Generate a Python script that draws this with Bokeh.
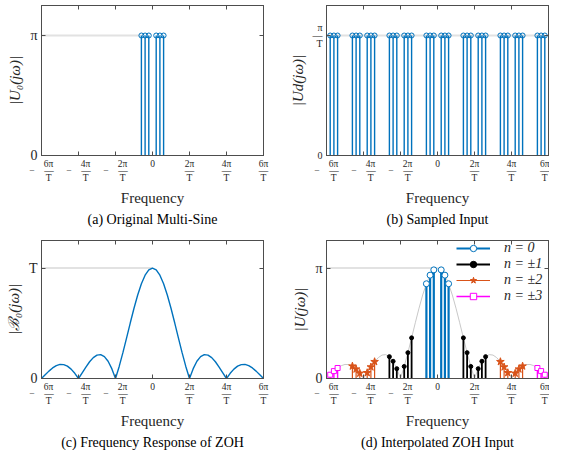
from bokeh.plotting import figure
from bokeh.models import Range1d, FixedTicker, LinearAxis, Legend, LegendItem
from bokeh.layouts import column, row
from bokeh.embed import file_html
from bokeh.resources import INLINE

# ---------------- data (x in units of pi/T) ----------------
x_ticks = [-6, -4, -2, 0, 2, 4, 6]
x_tick_num = ["6π", "4π", "2π", "0", "2π", "4π", "6π"]
x_tick_sign = ["−", "−", "−", "", "", "", ""]
x_tick_den = "T"

# (a) original multi-sine, magnitude in units of pi
a_freq = [-0.6, -0.4, -0.2, 0.2, 0.4, 0.6]
a_mag = [1.0, 1.0, 1.0, 1.0, 1.0, 1.0]

# (b) sampled input, magnitude in units of pi/T
b_freq = [-5.8, -5.6, -5.4, -4.6, -4.4, -4.2, -3.8, -3.6, -3.4,
          -2.6, -2.4, -2.2, -1.8, -1.6, -1.4, -0.6, -0.4, -0.2,
          0.2, 0.4, 0.6, 1.4, 1.6, 1.8, 2.2, 2.4, 2.6,
          3.4, 3.6, 3.8, 4.2, 4.4, 4.6, 5.4, 5.6, 5.8]
b_mag = [1.0, 1.0, 1.0, 1.0, 1.0, 1.0, 1.0, 1.0, 1.0,
         1.0, 1.0, 1.0, 1.0, 1.0, 1.0, 1.0, 1.0, 1.0,
         1.0, 1.0, 1.0, 1.0, 1.0, 1.0, 1.0, 1.0, 1.0,
         1.0, 1.0, 1.0, 1.0, 1.0, 1.0, 1.0, 1.0, 1.0]

# (c) ZOH frequency response, magnitude in units of T
zoh_freq = [-6.0, -5.8, -5.6, -5.4, -5.2, -5.0, -4.8, -4.6, -4.4, -4.2,
            -4.0, -3.8, -3.6, -3.4, -3.2, -3.0, -2.8, -2.6, -2.4, -2.2,
            -2.0, -1.8, -1.6, -1.4, -1.2, -1.0, -0.8, -0.6, -0.4, -0.2,
            0.0, 0.2, 0.4, 0.6, 0.8, 1.0, 1.2, 1.4, 1.6, 1.8,
            2.0, 2.2, 2.4, 2.6, 2.8, 3.0, 3.2, 3.4, 3.6, 3.8,
            4.0, 4.2, 4.4, 4.6, 4.8, 5.0, 5.2, 5.4, 5.6, 5.8, 6.0]
zoh_mag = [0.0, 0.0339, 0.0668, 0.0954, 0.1164, 0.1273, 0.1261, 0.1120, 0.0850, 0.0468,
           0.0, 0.0518, 0.1039, 0.1515, 0.1892, 0.2122, 0.2162, 0.1981, 0.1559, 0.0894,
           0.0, 0.1093, 0.2339, 0.3679, 0.5046, 0.6366, 0.7568, 0.8584, 0.9355, 0.9836,
           1.0, 0.9836, 0.9355, 0.8584, 0.7568, 0.6366, 0.5046, 0.3679, 0.2339, 0.1093,
           0.0, 0.0894, 0.1559, 0.1981, 0.2162, 0.2122, 0.1892, 0.1515, 0.1039, 0.0518,
           0.0, 0.0468, 0.0850, 0.1120, 0.1261, 0.1273, 0.1164, 0.0954, 0.0668, 0.0339, 0.0]

# (d) interpolated ZOH input, magnitude in units of pi
d_n0_freq = [-0.6, -0.4, -0.2, 0.2, 0.4, 0.6]
d_n0_mag = [0.858, 0.936, 0.984, 0.984, 0.936, 0.858]
d_n1_freq = [-2.6, -2.4, -2.2, -1.8, -1.6, -1.4, 1.4, 1.6, 1.8, 2.2, 2.4, 2.6]
d_n1_mag = [0.198, 0.156, 0.089, 0.109, 0.234, 0.368, 0.368, 0.234, 0.109, 0.089, 0.156, 0.198]
d_n2_freq = [-4.6, -4.4, -4.2, -3.8, -3.6, -3.4, 3.4, 3.6, 3.8, 4.2, 4.4, 4.6]
d_n2_mag = [0.112, 0.085, 0.047, 0.052, 0.104, 0.152, 0.152, 0.104, 0.052, 0.047, 0.085, 0.112]
d_n3_freq = [-5.8, -5.6, -5.4, 5.4, 5.6, 5.8]
d_n3_mag = [0.034, 0.067, 0.095, 0.095, 0.067, 0.034]
legend_labels = ["n = 0", "n = ±1", "n = ±2", "n = ±3"]

# ---------------- style ----------------
FONT = "Liberation Serif"
AX = "#4d4d4d"
TXT = "#262626"
BLUE = "#0072BD"
BLACK = "#000000"
ORANGE = "#D95319"
MAGENTA = "#FF00FF"
REFGRAY = "#e2e2e2"
ENVGRAY = "#c8c8c8"
Y_TOP = 1.25


def frac_label(sign, num, den):
    if num == "0":
        return num
    if sign:
        pad = "\u2003\u2002"
        return pad + num + "\n" + sign + "\u2003\u2014\n" + pad + den
    return num + "\n\u2014\n" + den


x_overrides = {t: frac_label(s, n, x_tick_den) for t, s, n in zip(x_ticks, x_tick_sign, x_tick_num)}


def make_fig(width, height, bl, br, bt, bb, title, ylabel, yticks, yoverrides, ytick_size):
    p = figure(width=width, height=height,
               x_range=Range1d(x_ticks[0], x_ticks[-1]), y_range=Range1d(0, Y_TOP),
               output_backend="svg", toolbar_location=None,
               title=title, title_location="below",
               min_border_left=bl, min_border_right=br,
               min_border_top=bt, min_border_bottom=bb,
               background_fill_color="white", border_fill_color="white")
    p.xgrid.visible = False
    p.ygrid.visible = False
    p.outline_line_color = AX
    p.outline_line_width = 1

    xa = p.xaxis[0]
    xa.ticker = FixedTicker(ticks=x_ticks)
    xa.major_label_overrides = x_overrides
    xa.major_label_text_font = FONT
    xa.major_label_text_font_size = "9.5px"
    xa.major_label_text_line_height = 0.7
    xa.major_label_text_color = TXT
    xa.major_label_standoff = 3
    xa.axis_label = "Frequency"
    xa.axis_label_text_font = FONT
    xa.axis_label_text_font_size = "15px"
    xa.axis_label_text_font_style = "normal"
    xa.axis_label_text_color = TXT
    xa.axis_label_standoff = 4

    ya = p.yaxis[0]
    ya.ticker = FixedTicker(ticks=yticks)
    ya.major_label_overrides = yoverrides
    ya.major_label_text_font = FONT
    ya.major_label_text_font_size = ytick_size
    ya.major_label_text_line_height = 0.7
    ya.major_label_text_color = TXT
    ya.major_label_standoff = 4
    ya.axis_label = ylabel
    ya.axis_label_text_font = FONT
    ya.axis_label_text_font_size = "15px"
    ya.axis_label_text_font_style = "italic"
    ya.axis_label_text_color = TXT
    ya.axis_label_standoff = 4

    for ax in (xa, ya):
        ax.axis_line_color = AX
        ax.major_tick_line_color = AX
        ax.major_tick_in = 4
        ax.major_tick_out = 0
        ax.minor_tick_line_color = None

    top = LinearAxis(ticker=FixedTicker(ticks=x_ticks), major_label_text_font_size="0px",
                     major_label_text_color=None, major_label_standoff=0,
                     axis_line_color=AX, major_tick_line_color=AX,
                     major_tick_in=4, major_tick_out=0, minor_tick_line_color=None)
    right = LinearAxis(ticker=FixedTicker(ticks=yticks), major_label_text_font_size="0px",
                       major_label_text_color=None, major_label_standoff=0,
                       axis_line_color=AX, major_tick_line_color=AX,
                       major_tick_in=4, major_tick_out=0, minor_tick_line_color=None)
    p.add_layout(top, "above")
    p.add_layout(right, "right")

    p.title.align = "center"
    p.title.text_font = FONT
    p.title.text_font_size = "14px"
    p.title.text_font_style = "normal"
    p.title.text_color = "black"
    p.title.standoff = 2
    return p


def stems(p, freq, mag, color, lw, marker, size, fill):
    s = p.segment(x0=freq, y0=0, x1=freq, y1=mag, line_color=color, line_width=lw)
    m = p.scatter(x=freq, y=mag, marker=marker, size=size, line_color=color, line_width=1,
                  fill_color=fill)
    return s, m


def argmax_first(v):
    return v.index(max(v))


def argmax_last(v):
    return len(v) - 1 - v[::-1].index(max(v))


W1, W2 = 278, 271
H1, H2 = 235, 215

# (a)
pa = make_fig(W1, H1, 41, 15, 5, 80, "(a) Original Multi-Sine", "|U₀(jω)|",
              [0, 1], {0: "0", 1: "π"}, "14px")
pa.line([x_ticks[0], a_freq[argmax_first(a_mag)]], [max(a_mag), max(a_mag)],
        line_color=REFGRAY, line_width=2)
stems(pa, a_freq, a_mag, BLUE, 1.4, "circle", 5, None)

# (b)
pb = make_fig(W2, H1, 48, 1, 5, 80, "(b) Sampled Input", "|Ud(jω)|",
              [0, 1], {0: "0", 1: "π\n\u2014\nT"}, "10px")
pb.line([x_ticks[0], b_freq[argmax_last(b_mag)]], [max(b_mag), max(b_mag)],
        line_color=REFGRAY, line_width=2)
stems(pb, b_freq, b_mag, BLUE, 1.4, "circle", 5, None)

# (c)
pc = make_fig(W1, H2, 41, 15, 5, 60, "(c) Frequency Response of ZOH", "|ℬ₀(jω)|",
              [0, 1], {0: "0", 1: "T"}, "14px")
pc.line([x_ticks[0], zoh_freq[argmax_first(zoh_mag)]], [max(zoh_mag), max(zoh_mag)],
        line_color=REFGRAY, line_width=2)
pc.line(zoh_freq, zoh_mag, line_color=BLUE, line_width=1.4)

# (d)
pd = make_fig(W2, H2, 48, 1, 5, 60, "(d) Interpolated ZOH Input", "|U(jω)|",
              [0, 1], {0: "0", 1: "π"}, "14px")
pd.line([x_ticks[0], zoh_freq[argmax_first(zoh_mag)]], [max(zoh_mag), max(zoh_mag)],
        line_color=REFGRAY, line_width=2)
pd.line(zoh_freq, zoh_mag, line_color=ENVGRAY, line_width=1)
r0 = stems(pd, d_n0_freq, d_n0_mag, BLUE, 2.2, "circle", 6, "white")
r1 = stems(pd, d_n1_freq, d_n1_mag, BLACK, 1.8, "circle", 4, BLACK)
r2 = stems(pd, d_n2_freq, d_n2_mag, ORANGE, 1.2, "star", 8, ORANGE)
r3 = stems(pd, d_n3_freq, d_n3_mag, MAGENTA, 1.4, "square", 5, "white")

legend = Legend(items=[LegendItem(label=lab, renderers=list(r))
                       for lab, r in zip(legend_labels, [r0, r1, r2, r3])],
                location="top_right", orientation="vertical",
                border_line_color=None, background_fill_alpha=0,
                label_text_font=FONT, label_text_font_style="italic",
                label_text_font_size="14px", label_text_color=TXT,
                glyph_width=34, glyph_height=16, label_height=16,
                label_standoff=14, spacing=0, padding=0, margin=0, label_width=44)
pd.add_layout(legend)

layout = column(row(pa, pb), row(pc, pd))
open("out.html", "w").write(file_html(layout, INLINE))
